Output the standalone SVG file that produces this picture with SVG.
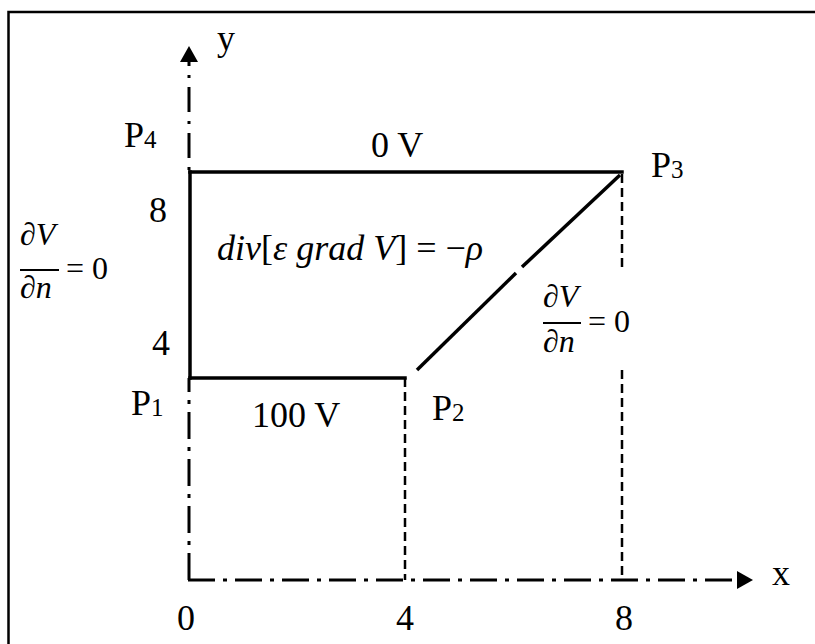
<svg xmlns="http://www.w3.org/2000/svg" width="815" height="644" viewBox="0 0 815 644">
<style>
  text { font-family: "Liberation Serif", "Times New Roman", serif; fill: #000; }
  .lbl { font-size: 36px; }
  .sub { font-size: 25px; }
  .math { font-size: 32px; font-style: italic; }
  .eq { font-size: 36px; font-style: italic; }
  .up { font-style: normal; }
  .solid { fill: none; stroke: #000; stroke-width: 3.5; stroke-linecap: square; }
  .axis { fill: none; stroke: #000; stroke-width: 3; stroke-dasharray: 27 8 4 8; }
  .dash { fill: none; stroke: #000; stroke-width: 2.5; stroke-dasharray: 9 5; }
  .bar { stroke: #000; stroke-width: 2; }
</style>
<defs>
  <marker id="arrow" markerUnits="userSpaceOnUse" markerWidth="16" markerHeight="18" refX="0" refY="9" orient="auto">
    <path d="M0,0 L16,9 L0,18 z" fill="#000"/>
  </marker>
</defs>
<rect x="0" y="0" width="815" height="644" fill="#fff"/>
<path id="frame" d="M8.5,644 V12 H815" fill="none" stroke="#000" stroke-width="2.5"/>

<g id="connectors">
  <path id="x-axis" class="axis" d="M188,580 H737" marker-end="url(#arrow)"/>
  <path id="y-axis-low" class="axis" d="M189,580 V378"/>
  <path id="y-axis-high" class="axis" style="stroke-dasharray:3 9 25 9" d="M189,170 V62" marker-end="url(#arrow)"/>
  <path id="edge-P1-P4" class="solid" d="M190,378 V172"/>
  <path id="edge-P4-P3" class="solid" d="M190,172 H622"/>
  <path id="edge-P1-P2" class="solid" d="M190,378 H405"/>
  <path id="edge-P2-P3a" class="solid" style="stroke-linecap:butt" d="M417,370 L516,273"/>
  <path id="edge-P2-P3b" class="solid" style="stroke-linecap:butt" d="M522,267 L620,175"/>
  <path id="drop-P2" class="dash" d="M405,378 V580"/>
  <path id="drop-P3a" class="dash" d="M622,174 V270"/>
  <path id="drop-P3b" class="dash" d="M622,370 V580"/>
</g>

<g id="axis-labels">
  <text class="lbl" x="217" y="50">y</text>
  <text class="lbl" x="772" y="585">x</text>
  <text class="lbl" x="177" y="630">0</text>
  <text class="lbl" x="396" y="630">4</text>
  <text class="lbl" x="615" y="630">8</text>
  <text class="lbl" x="149" y="222">8</text>
  <text class="lbl" x="152" y="355">4</text>
</g>

<g id="P1"><text class="lbl" x="131" y="415">P<tspan class="sub" dy="1">1</tspan></text></g>
<g id="P2"><text class="lbl" x="432" y="420">P<tspan class="sub" dy="1">2</tspan></text></g>
<g id="P3"><text class="lbl" x="651" y="177">P<tspan class="sub" dy="1">3</tspan></text></g>
<g id="P4"><text class="lbl" x="124" y="147">P<tspan class="sub" dy="1">4</tspan></text></g>

<g id="bc-top"><text class="lbl" x="371" y="157">0 V</text></g>
<g id="bc-bottom"><text class="lbl" x="252" y="427">100 V</text></g>

<g id="equation">
  <text class="eq" x="217" y="260">div<tspan class="up">[</tspan>ε grad V<tspan class="up">] = −</tspan>ρ</text>
</g>

<g id="bc-left">
  <text class="math" x="20" y="245">∂V</text>
  <line class="bar" x1="20" y1="270" x2="59" y2="270"/>
  <text class="math" x="20" y="298">∂n</text>
  <text class="lbl" x="66" y="279" style="font-size:32px">= 0</text>
</g>

<g id="bc-right">
  <text class="math" x="543" y="307">∂V</text>
  <line class="bar" x1="543" y1="323" x2="581" y2="323"/>
  <text class="math" x="543" y="352">∂n</text>
  <text class="lbl" x="588" y="332" style="font-size:32px">= 0</text>
</g>
</svg>
